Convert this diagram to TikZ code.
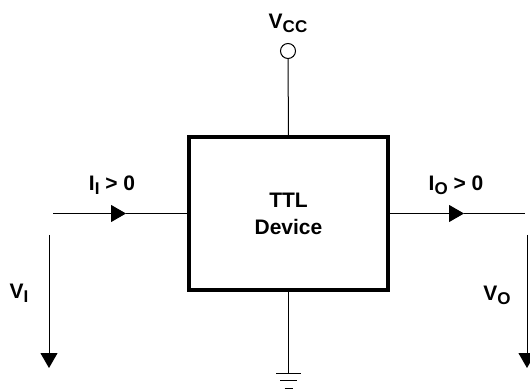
\documentclass[tikz,border=0pt]{standalone}
\usepackage{fontspec}
\setmainfont{Liberation Sans}
\usetikzlibrary{arrows.meta,positioning}
\newcommand{\subtxt}[1]{\raisebox{-4pt}{\fontsize{17}{17}\selectfont #1}}
\tikzset{
  devblk/.style={draw,rectangle,line width=3.2pt,minimum width=199pt,minimum height=153pt,align=center,font=\fontsize{21}{27}\selectfont\bfseries},
  wire/.style={line width=1pt},
  arr/.style={wire,-{Triangle[length=15pt,width=17pt]}},
  rail/.style={circle,draw,line width=1pt,minimum size=15pt,inner sep=0pt},
  lbl/.style={font=\fontsize{21}{24}\selectfont\bfseries,inner sep=0pt}
}
\begin{document}
\begin{tikzpicture}[x=1pt,y=-1pt]
  \useasboundingbox (0,0) rectangle (530,390);
  % Device
  \node[devblk] (dev) at (288.5,213.5) {TTL\\Device};

  % Supply
  \node[rail] (vcc) at (288,51) {};
  \node[lbl] (vcclbl) at (288,23) {V\subtxt{CC}};
  \draw[wire] (vcc.south) -- (dev.north);

  % Input side
  \coordinate (iin) at (53,213.5);
  \coordinate (iintip) at (126,213.5);
  \draw[arr] (iin) -- (iintip);
  \draw[wire] (iintip) -- (dev.west);
  \node[lbl] (iinlbl) at (112,185) {I\subtxt{I} > 0};
  \coordinate (vin) at (49,235);
  \coordinate (vintip) at (49,368);
  \draw[arr] (vin) -- (vintip);
  \node[lbl] (vinlbl) at (19,293) {V\subtxt{I}};

  % Output side
  \coordinate (iouttip) at (464,213.5);
  \coordinate (iout) at (525,213.5);
  \draw[arr] (dev.east) -- (iouttip);
  \draw[wire] (iouttip) -- (iout);
  \node[lbl] (ioutlbl) at (456,185) {I\subtxt{O} > 0};
  \coordinate (vout) at (527,235);
  \coordinate (vouttip) at (527,368);
  \draw[arr] (vout) -- (vouttip);
  \node[lbl] (voutlbl) at (497,295) {V\subtxt{O}};

  % Ground
  \coordinate (gnd) at (288.5,373);
  \draw[wire] (dev.south) -- (gnd);
  \draw[wire] ([xshift=-12.5pt]gnd) -- ([xshift=12.5pt]gnd);
  \draw[wire] ([shift={(-8.5pt,-7.5pt)}]gnd) -- ([shift={(8.5pt,-7.5pt)}]gnd);
  \draw[wire] ([shift={(-4pt,-15pt)}]gnd) -- ([shift={(4pt,-15pt)}]gnd);
\end{tikzpicture}
\end{document}
